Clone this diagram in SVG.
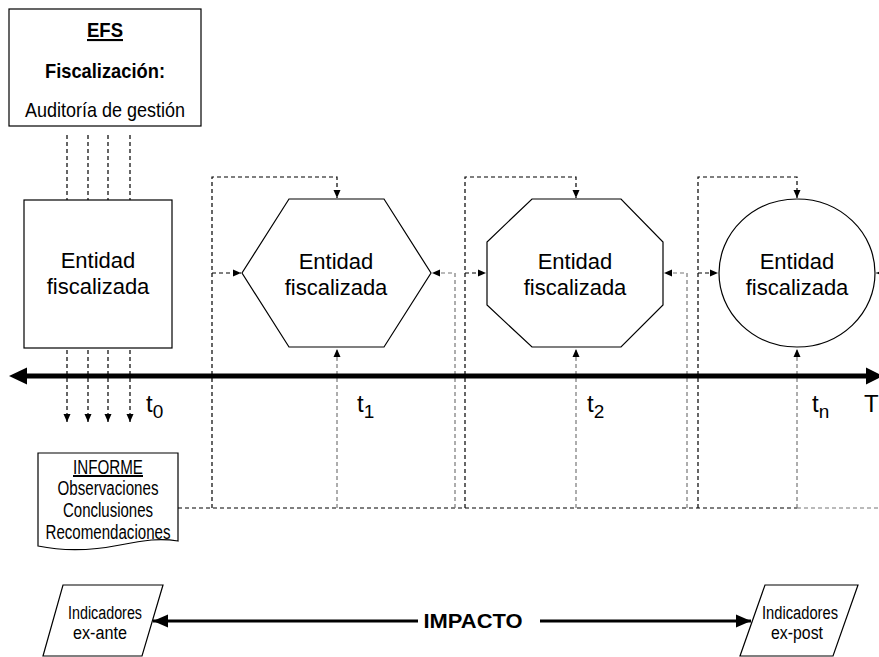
<svg xmlns="http://www.w3.org/2000/svg" width="879" height="657" viewBox="0 0 879 657">
  <defs>
    <style>
      .box { fill: #fff; stroke: #000; stroke-width: 1.2; }
      .txt { font-family: "Liberation Sans", Arial, sans-serif; fill: #000; }
      .ent { font-size: 22px; text-anchor: middle; }
      .feed { fill: none; stroke: #000; stroke-width: 1.2; stroke-dasharray: 4 3; }
      .ret { fill: none; stroke: #777; stroke-width: 1.2; stroke-dasharray: 4 3; }
      .solid { fill: none; stroke: #000; stroke-width: 3; }
    </style>
    <marker id="ah" markerUnits="userSpaceOnUse" markerWidth="8" markerHeight="8" refX="8" refY="4" orient="auto">
      <path d="M0,0.5 L8,4 L0,7.5 Z" fill="#000"/>
    </marker>
    <marker id="big" markerUnits="userSpaceOnUse" markerWidth="16" markerHeight="14" refX="15" refY="7" orient="auto">
      <path d="M0,0.5 L15,7 L0,13.5 Z" fill="#000"/>
    </marker>
  </defs>

  <rect width="879" height="657" fill="#fff"/>

  <!-- connectors -->
  <g id="connectors">
    <!-- audit lines from the EFS into the audited entity and on to the report -->
    <path class="feed" d="M67,135 V200 M88,135 V200 M108,135 V200 M130,135 V200"/>
    <path class="feed" d="M67,350 V422" marker-end="url(#ah)"/>
    <path class="feed" d="M88,350 V422" marker-end="url(#ah)"/>
    <path class="feed" d="M108,350 V422" marker-end="url(#ah)"/>
    <path class="feed" d="M130,350 V422" marker-end="url(#ah)"/>

    <!-- report distribution line -->
    <path class="feed" d="M178,508 H797"/>
    <path class="ret" d="M797,508 H879"/>

    <!-- t1 -->
    <path class="feed" d="M212,508 V177 H337 V198" marker-end="url(#ah)"/>
    <path class="feed" d="M212,273 H241" marker-end="url(#ah)"/>
    <path class="ret" d="M337,508 V349" marker-end="url(#ah)"/>
    <path class="ret" d="M455,508 V273 H432" marker-end="url(#ah)"/>

    <!-- t2 -->
    <path class="feed" d="M465,508 V177 H576 V198" marker-end="url(#ah)"/>
    <path class="feed" d="M465,273 H486" marker-end="url(#ah)"/>
    <path class="ret" d="M576,508 V349" marker-end="url(#ah)"/>
    <path class="ret" d="M687,508 V273 H664" marker-end="url(#ah)"/>

    <!-- tn -->
    <path class="feed" d="M698,508 V177 H797 V198" marker-end="url(#ah)"/>
    <path class="feed" d="M698,273 H718" marker-end="url(#ah)"/>
    <path class="ret" d="M797,508 V349" marker-end="url(#ah)"/>
    <path class="ret" d="M884,273 H876" marker-end="url(#ah)"/>

    <!-- time axis -->
    <line x1="24" y1="376" x2="870" y2="376" stroke="#000" stroke-width="5"/>
    <polygon points="9,376 27,367.5 27,384.5" fill="#000"/>
    <polygon points="883,376 866,367.5 866,384.5" fill="#000"/>

    <!-- impact arrows -->
    <path class="solid" d="M418,621 H153" marker-end="url(#big)"/>
    <path class="solid" d="M540,621 H751" marker-end="url(#big)"/>
  </g>

  <!-- time labels -->
  <g id="time-labels" class="txt" font-size="24">
    <text x="146" y="412">t<tspan font-size="19" dy="6">0</tspan></text>
    <text x="357" y="412">t<tspan font-size="19" dy="6">1</tspan></text>
    <text x="587" y="412">t<tspan font-size="19" dy="6">2</tspan></text>
    <text x="812" y="412">t<tspan font-size="19" dy="6">n</tspan></text>
    <text x="864" y="412">T</text>
  </g>

  <!-- EFS -->
  <g id="efs">
    <rect class="box" x="9" y="9" width="192" height="117"/>
    <text class="txt" x="105" y="37" font-size="21" font-weight="bold" text-anchor="middle" text-decoration="underline" textLength="36" lengthAdjust="spacingAndGlyphs">EFS</text>
    <text class="txt" x="105" y="78" font-size="21" font-weight="bold" text-anchor="middle" textLength="120" lengthAdjust="spacingAndGlyphs">Fiscalización:</text>
    <text class="txt" x="105" y="117" font-size="21" text-anchor="middle" textLength="160" lengthAdjust="spacingAndGlyphs">Auditoría de gestión</text>
  </g>

  <!-- entity at t0 -->
  <g id="entity-t0">
    <rect class="box" x="24" y="200" width="148" height="148"/>
    <text class="txt ent" x="98" y="268">Entidad</text>
    <text class="txt ent" x="98" y="294">fiscalizada</text>
  </g>

  <!-- entity at t1 -->
  <g id="entity-t1">
    <polygon class="box" points="289,199 384,199 431,273 384,347 289,347 242,273"/>
    <text class="txt ent" x="336" y="269">Entidad</text>
    <text class="txt ent" x="336" y="295">fiscalizada</text>
  </g>

  <!-- entity at t2 -->
  <g id="entity-t2">
    <polygon class="box" points="532,199 621,199 663,242 663,305 621,347 532,347 487,305 487,242"/>
    <text class="txt ent" x="575" y="269">Entidad</text>
    <text class="txt ent" x="575" y="295">fiscalizada</text>
  </g>

  <!-- entity at tn -->
  <g id="entity-tn">
    <ellipse class="box" cx="797" cy="273" rx="78" ry="74"/>
    <text class="txt ent" x="797" y="269">Entidad</text>
    <text class="txt ent" x="797" y="295">fiscalizada</text>
  </g>

  <!-- report -->
  <g id="informe">
    <path class="box" d="M38,453 H178 V541 C160,538 145,540 120,545 C90,551 62,551 38,546 Z"/>
    <text class="txt" x="108" y="474" font-size="20" text-anchor="middle" text-decoration="underline" textLength="70" lengthAdjust="spacingAndGlyphs">INFORME</text>
    <text class="txt" x="108" y="495" font-size="20" text-anchor="middle" textLength="101" lengthAdjust="spacingAndGlyphs">Observaciones</text>
    <text class="txt" x="108" y="517" font-size="20" text-anchor="middle" textLength="90" lengthAdjust="spacingAndGlyphs">Conclusiones</text>
    <text class="txt" x="108" y="539" font-size="20" text-anchor="middle" textLength="125" lengthAdjust="spacingAndGlyphs">Recomendaciones</text>
  </g>

  <!-- ex-ante indicators -->
  <g id="indicadores-ex-ante">
    <polygon class="box" points="63,585 163,585 142,656 43,656"/>
    <text class="txt" x="105" y="619" font-size="18" text-anchor="middle" textLength="74" lengthAdjust="spacingAndGlyphs">Indicadores</text>
    <text class="txt" x="100" y="639" font-size="18" text-anchor="middle" textLength="54" lengthAdjust="spacingAndGlyphs">ex-ante</text>
  </g>

  <!-- impact label -->
  <g id="impacto">
    <text class="txt" x="473" y="628" font-size="20" font-weight="bold" text-anchor="middle" textLength="99" lengthAdjust="spacingAndGlyphs">IMPACTO</text>
  </g>

  <!-- ex-post indicators -->
  <g id="indicadores-ex-post">
    <polygon class="box" points="765,585 858,585 833,656 740,656"/>
    <text class="txt" x="800" y="619" font-size="18" text-anchor="middle" textLength="76" lengthAdjust="spacingAndGlyphs">Indicadores</text>
    <text class="txt" x="797" y="639" font-size="18" text-anchor="middle" textLength="52" lengthAdjust="spacingAndGlyphs">ex-post</text>
  </g>
</svg>
